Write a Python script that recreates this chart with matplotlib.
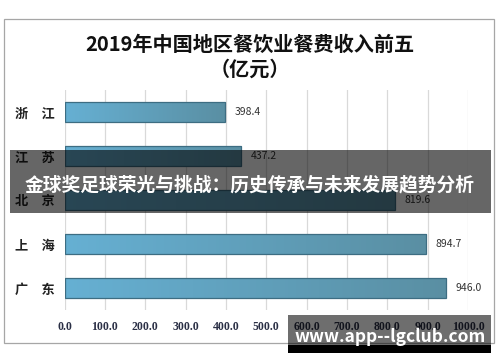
import numpy as np
import matplotlib
matplotlib.use("Agg")
import matplotlib.pyplot as plt
from matplotlib.patches import Rectangle
from matplotlib.colors import LinearSegmentedColormap

plt.rcParams['font.family'] = ['Noto Sans CJK SC', 'DejaVu Sans']

# data
provinces = ['浙　江', '江　苏', '北　京', '上　海', '广　东']
revenue = [398.4, 437.2, 819.6, 894.7, 946.0]
xticks = [0, 100, 200, 300, 400, 500, 600, 700, 800, 900, 1000]
title = '2019年中国地区餐饮业餐费收入前五\n（亿元）'
banner = '金球奖足球荣光与挑战：历史传承与未来发展趋势分析'
watermark = 'www.app--lgclub.com'

fig = plt.figure(figsize=(5, 3.62), dpi=100)
fig.patch.set_facecolor('white')

# outer chart frame
fig.patches.append(Rectangle((4 / 500, 1 - 343 / 362), 490 / 500, 324 / 362,
                             transform=fig.transFigure, fill=False,
                             edgecolor='#a6a6a6', lw=0.9))

fig.text(0.5, 1 - 57 / 362, title, ha='center', va='center', fontsize=14.5,
         fontweight='bold', color='#111111', linespacing=1.25)

ax = fig.add_axes([64.5 / 500, 52 / 362, 403.5 / 500, 220 / 362])
ypos = np.arange(len(provinces))
bars = ax.barh(ypos, revenue, height=0.46, color='none',
               edgecolor='#3d6d82', lw=0.9, zorder=3)

# horizontal gradient fill for each bar
cmap = LinearSegmentedColormap.from_list('bar', ['#66b0d3', '#5a8fa3'])
grad = np.linspace(0, 1, 256).reshape(1, -1)
for b in bars:
    x0, y0 = b.get_x(), b.get_y()
    w, h = b.get_width(), b.get_height()
    im = ax.imshow(grad, cmap=cmap, aspect='auto', zorder=2,
                   extent=(x0, x0 + w, y0 + h, y0))
    im.set_clip_path(b)
    ax.annotate(f'{w:.1f}', (x0 + w, y0 + h / 2), xytext=(7, 0),
                textcoords='offset points', ha='left', va='center',
                fontsize=7.5, color='#333333')

ax.set_xlim(0, 1000)
ax.set_ylim(len(provinces) - 0.5, -0.5)
ax.set_xticks(xticks)
ax.set_xticklabels([f'{v:.1f}' for v in xticks], fontsize=8.5,
                   fontweight='bold', color='#2a2f45',
                   family='Liberation Serif')
ax.set_yticks(ypos)
ax.set_yticklabels(provinces, fontsize=9.5, fontweight='bold', color='#222222')
ax.tick_params(axis='x', length=0, pad=8)
ax.tick_params(axis='y', length=0, pad=7)
ax.grid(axis='x', color='#d9d9d9', lw=0.9, zorder=0)
ax.set_axisbelow(True)
for s in ax.spines.values():
    s.set_visible(False)

# overlay banner
fig.patches.append(Rectangle((10 / 500, 1 - 213 / 362), 481 / 500, 63 / 362,
                             transform=fig.transFigure, facecolor='black',
                             alpha=0.6, zorder=10))
fig.text(0.5, 1 - 185 / 362, banner, ha='center', va='center', fontsize=13.5,
         fontweight='bold', color='white', zorder=11)

# watermark
fig.patches.append(Rectangle((288 / 500, 1 - 345 / 362), 203 / 500, 30 / 362,
                             transform=fig.transFigure, facecolor='black',
                             alpha=0.57, zorder=10))
fig.patches.append(Rectangle((288 / 500, 1 - 353 / 362), 203 / 500, 8 / 362,
                             transform=fig.transFigure, facecolor='black',
                             zorder=10))
fig.text(390 / 500, 1 - 337 / 362, watermark, ha='center', va='center',
         fontsize=12.5, fontweight='bold', color='white', zorder=11)

fig.savefig('out.png', dpi=100)
